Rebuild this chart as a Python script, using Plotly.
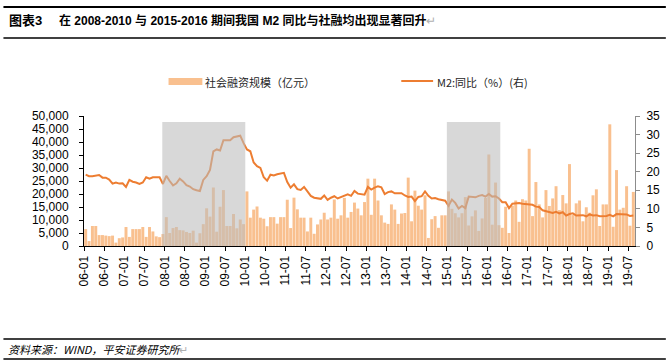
import plotly.graph_objects as go

# ---------------- data ----------------
years = list(range(2006, 2020))
months = [f"{y}-{m:02d}" for y in years for m in range(1, 13)][:164]  # 2006-01 .. 2019-08

tsf = [  # 社会融资规模（亿元）
    6500, 1900, 7700, 7700, 4200, 4200, 4000, 3800, 4000, 1300, 3000, 3300,
    7300, 3500, 6500, 6500, 6500, 7300, 3500, 7300, 5600, 3700, 3400, 4600,
    11100, 5000, 6900, 7300, 6100, 6000, 5400, 5000, 5900, 1300, 4900, 8400,
    14500, 11300, 22500, 5500, 15100, 21500, 7700, 7700, 12300, 6800, 10200, 8400,
    21000, 10900, 14000, 15200, 10900, 10500, 7600, 11100, 11100, 8600, 11100, 11100,
    17800, 6900, 18600, 14100, 10900, 10900, 5600, 10900, 4700, 8300, 10200, 12800,
    10200, 10900, 17900, 10500, 11800, 18500, 10900, 13100, 16700, 14400, 11800, 16900,
    25900, 12000, 25900, 17500, 11800, 9000, 8500, 16000, 14000, 8500, 12500, 12700,
    26300, 9500, 21300, 15500, 14000, 19500, 3100, 10300, 11500, 7000, 11800, 11800,
    21000, 14300, 12600, 11000, 12600, 18800, 7900, 11400, 13700, 5800, 10600, 18500,
    35200, 8200, 24400, 8000, 7000, 15100, 5000, 15500, 17500, 9300, 18000, 17500,
    37400, 11500, 24600, 16000, 11000, 21500, 15400, 18300, 23000, 13800, 19600, 16400,
    31500, 11900, 16400, 17500, 9500, 14900, 12800, 19500, 21800, 7700, 16000, 16000,
    46800, 7400, 29200, 14000, 14700, 23000, 7800, 20800,
]

m2 = [  # M2:同比（%）
    19.2, 18.8, 18.8, 18.9, 19.1, 18.4, 18.4, 17.9, 16.8, 17.1, 16.8, 16.9,
    15.9, 17.8, 17.3, 17.1, 16.7, 17.1, 18.5, 18.1, 18.5, 18.5, 18.5, 16.7,
    18.9, 17.5, 16.3, 16.9, 18.1, 17.4, 16.4, 16.0, 15.3, 15.0, 14.8, 17.8,
    18.8, 20.5, 25.5, 26.0, 25.7, 28.5, 28.4, 28.5, 29.3, 29.4, 29.7, 27.7,
    26.0, 25.5, 22.5, 21.5, 21.0, 18.5, 17.6, 19.2, 19.0, 19.3, 19.5, 19.7,
    17.2, 15.7, 16.6, 15.3, 15.1, 15.9, 14.7, 13.5, 13.0, 12.9, 12.7, 13.6,
    12.4, 13.0, 13.4, 12.8, 13.2, 13.6, 13.9, 13.5, 14.8, 14.1, 13.9, 13.8,
    15.9, 15.2, 15.7, 16.1, 15.8, 14.0, 14.5, 14.7, 14.2, 14.3, 14.2, 13.6,
    13.2, 13.3, 12.1, 13.2, 13.4, 14.7, 13.5, 12.8, 12.9, 12.6, 12.3, 12.2,
    10.8, 12.5, 11.6, 10.1, 10.8, 10.2, 13.3, 13.3, 13.1, 13.5, 13.7, 13.3,
    14.0, 13.3, 13.4, 12.8, 11.8, 11.8, 10.2, 11.4, 11.5, 11.6, 11.4, 11.3,
    11.3, 11.1, 10.6, 10.5, 9.6, 9.4, 9.2, 8.9, 9.2, 8.8, 9.1, 8.2,
    8.6, 8.8, 8.2, 8.3, 8.3, 8.0, 8.5, 8.2, 8.3, 8.0, 8.0, 8.1,
    8.4, 8.0, 8.6, 8.5, 8.5, 8.5, 8.1, 8.2,
]

tick_labels = [f"{y % 100:02d}-{m:02d}" for y in range(2006, 2020) for m in (1, 7)]
tick_pos = [i * 6 for i in range(len(tick_labels))]

# shaded periods (month index from 2006-01)
shade_periods = [(23.3, 48.0), (108.0, 123.9)]
shade_top = 47700

# ---------------- figure ----------------
W, H = 672, 363
L, R, T, B = 84, 34, 116, 117
PW, PH = W - L - R, H - T - B

def px(x):
    return (x - L) / PW

def py(y):
    return (H - B - y) / PH

xs = [i + 0.5 for i in range(len(months))]

BAR_C = "#F9C08F"
LINE_C = "#ED7D31"
FONT = "Liberation Sans, Arial, Noto Sans CJK SC"
CJK = "Noto Sans CJK SC, Liberation Sans"

fig = go.Figure()
fig.add_trace(go.Bar(x=xs, y=tsf, name="社会融资规模（亿元）", marker_color=BAR_C,
                     marker_line_width=0, width=0.88, showlegend=False,
                     customdata=months))
fig.add_trace(go.Scatter(x=xs, y=m2, name="M2:同比（%）(右)", yaxis="y2", mode="lines",
                         line=dict(color=LINE_C, width=2), showlegend=False,
                         customdata=months))

shapes = []
for x0, x1 in shade_periods:
    shapes.append(dict(type="rect", xref="x", yref="y", x0=x0, x1=x1, y0=0, y1=shade_top,
                       fillcolor="rgba(188,188,188,0.58)", line_width=0, layer="above"))

# header / footer rules
shapes.append(dict(type="line", xref="paper", yref="paper", x0=px(3), x1=px(669),
                   y0=py(7), y1=py(7), line=dict(color="black", width=2)))
shapes.append(dict(type="line", xref="paper", yref="paper", x0=px(3), x1=px(669),
                   y0=py(38), y1=py(38), line=dict(color="black", width=1.3)))
shapes.append(dict(type="line", xref="paper", yref="paper", x0=px(3), x1=px(669),
                   y0=py(339), y1=py(339), line=dict(color="black", width=1.3)))
shapes.append(dict(type="line", xref="paper", yref="paper", x0=px(3), x1=px(669),
                   y0=py(359), y1=py(359), line=dict(color="black", width=1.3)))

# legend swatches
shapes.append(dict(type="rect", xref="paper", yref="paper", x0=px(169), x1=px(203),
                   y0=py(85), y1=py(78), fillcolor=BAR_C, line_width=0))
shapes.append(dict(type="line", xref="paper", yref="paper", x0=px(403), x1=px(435),
                   y0=py(81), y1=py(81), line=dict(color=LINE_C, width=2)))

annotations = [
    dict(xref="paper", yref="paper", x=px(7), y=py(21), xanchor="left", yanchor="middle",
         text="<b>图表3</b>", showarrow=False, font=dict(family=FONT, size=13, color="black")),
    dict(xref="paper", yref="paper", x=px(57), y=py(21), xanchor="left", yanchor="middle",
         text="<b>在 2008-2010 与 2015-2016 期间我国 M2 同比与社融均出现显著回升</b>"
              "<span style='color:#b0b0b0'>↵</span>",
         showarrow=False, font=dict(family=FONT, size=12, color="black")),
    dict(xref="paper", yref="paper", x=px(204), y=py(81.5), xanchor="left", yanchor="middle",
         text="社会融资规模（亿元）", showarrow=False,
         font=dict(family=CJK, size=11, color="#262626")),
    dict(xref="paper", yref="paper", x=px(437), y=py(81.5), xanchor="left", yanchor="middle",
         text="M2:同比（%）(右)", showarrow=False,
         font=dict(family=CJK, size=11, color="#262626")),
    dict(xref="paper", yref="paper", x=px(6), y=py(349), xanchor="left", yanchor="middle",
         text="<i>资料来源：WIND，平安证券研究所</i><span style='color:#b0b0b0'>↵</span>",
         showarrow=False, font=dict(family=CJK, size=11, color="black")),
]

fig.update_layout(
    width=W, height=H,
    margin=dict(l=L, r=R, t=T, b=B, pad=0),
    paper_bgcolor="white", plot_bgcolor="white",
    bargap=0.12,
    shapes=shapes, annotations=annotations,
    font=dict(family=FONT, size=12, color="black"),
    xaxis=dict(range=[0, len(months)], tickmode="array", tickvals=tick_pos, ticktext=tick_labels,
               tickangle=-90, showline=True, linecolor="black", linewidth=1,
               ticks="outside", ticklen=4, tickcolor="black", showgrid=False, zeroline=False,
               tickfont=dict(family=FONT, size=12, color="black")),
    yaxis=dict(range=[0, 50000], dtick=5000, tickformat=",", showline=True, linecolor="black",
               linewidth=1, ticks="outside", ticklen=4, tickcolor="black", showgrid=False,
               zeroline=False, ticklabelstandoff=8,
               tickfont=dict(family=FONT, size=12, color="black")),
    yaxis2=dict(range=[0, 35], dtick=5, overlaying="y", side="right", showline=True,
                linecolor="#8c8c8c", linewidth=1, ticks="outside", ticklen=4, tickcolor="#8c8c8c",
                showgrid=False, zeroline=False, ticklabelstandoff=4,
                tickfont=dict(family=FONT, size=12, color="black")),
)

fig.write_html("out.html", config={"displayModeBar": False},
               post_script="document.body.style.margin='0';document.body.style.overflow='hidden';")
